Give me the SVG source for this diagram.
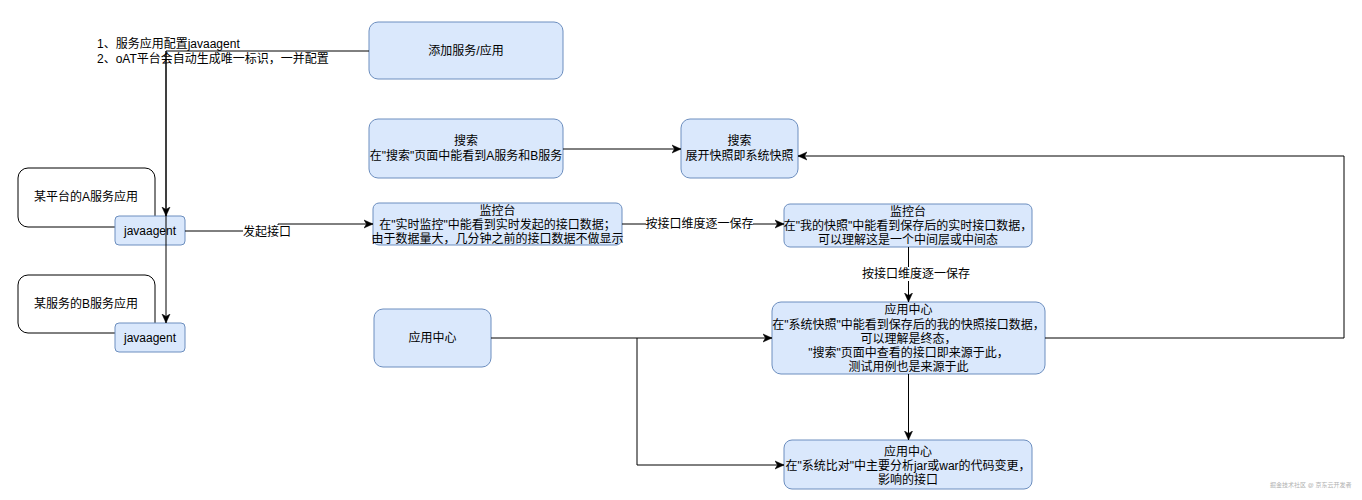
<svg xmlns="http://www.w3.org/2000/svg" width="1362" height="500" viewBox="0 0 1362 500">
<style>
text{font-family:"Liberation Sans","Noto Sans CJK SC",sans-serif;font-size:12px;fill:#000;dominant-baseline:central;text-anchor:middle}
.blue{fill:#dae8fc;stroke:#6c8ebf;stroke-width:1}
.white{fill:#fff;stroke:#000;stroke-width:1}
.edge{fill:none;stroke:#000;stroke-width:1}
.lbl{fill:#fff;stroke:none}
.wm{font-size:6px;fill:#b0b0b0;text-anchor:start}
</style>
<defs>
<marker id="arr" markerUnits="userSpaceOnUse" markerWidth="10" markerHeight="10" viewBox="0 0 10 10" refX="9" refY="5" orient="auto">
<path d="M0,1 L9,5 L0,9 L2.5,5 Z" fill="#000" stroke="#000" stroke-width="0.5"/>
</marker>
</defs>
<rect width="1362" height="500" fill="#fff"/>

<g id="note">
<text x="97" y="44" style="text-anchor:start">1、服务应用配置javaagent</text>
<text x="97" y="59" style="text-anchor:start">2、oAT平台会自动生成唯一标识，一并配置</text>
</g>

<g id="add-service">
<rect class="blue" x="369" y="22" width="194" height="57" rx="9"/>
<text x="466" y="50.5">添加服务/应用</text>
</g>

<g id="search-left">
<rect class="blue" x="369" y="119" width="194" height="59" rx="9"/>
<text x="466" y="141">搜索</text>
<text x="466" y="156">在"搜索"页面中能看到A服务和B服务</text>
</g>

<g id="search-right">
<rect class="blue" x="681" y="119" width="117" height="59" rx="9"/>
<text x="739.5" y="141">搜索</text>
<text x="739.5" y="156">展开快照即系统快照</text>
</g>

<g id="app-a">
<rect class="white" x="18" y="168" width="137" height="59" rx="10"/>
<text x="86" y="197">某平台的A服务应用</text>
</g>

<g id="agent-a">
<rect class="blue" x="115" y="216" width="70" height="29" rx="4"/>
<text x="150" y="231">javaagent</text>
</g>

<g id="app-b">
<rect class="white" x="18" y="275" width="137" height="58" rx="10"/>
<text x="86" y="304">某服务的B服务应用</text>
</g>

<g id="agent-b">
<rect class="blue" x="115" y="323" width="70" height="29" rx="4"/>
<text x="150" y="338">javaagent</text>
</g>

<g id="monitor-live">
<rect class="blue" x="373" y="203" width="249" height="42" rx="6"/>
<text x="497.5" y="210.5">监控台</text>
<text x="497.5" y="224.5">在"实时监控"中能看到实时发起的接口数据；</text>
<text x="497.5" y="238.5">由于数据量大，几分钟之前的接口数据不做显示</text>
</g>

<g id="monitor-snapshot">
<rect class="blue" x="784" y="204" width="248" height="43" rx="6"/>
<text x="908" y="211.5">监控台</text>
<text x="908" y="225.5">在"我的快照"中能看到保存后的实时接口数据，</text>
<text x="908" y="239.5">可以理解这是一个中间层或中间态</text>
</g>

<g id="app-center-left">
<rect class="blue" x="374" y="309" width="117" height="58" rx="9"/>
<text x="432.5" y="338">应用中心</text>
</g>

<g id="app-center-snapshot">
<rect class="blue" x="772" y="302" width="273" height="72" rx="9"/>
<text x="908.5" y="310">应用中心</text>
<text x="908.5" y="324.5">在"系统快照"中能看到保存后的我的快照接口数据，</text>
<text x="908.5" y="339">可以理解是终态，</text>
<text x="908.5" y="353">"搜索"页面中查看的接口即来源于此，</text>
<text x="908.5" y="367">测试用例也是来源于此</text>
</g>

<g id="app-center-compare">
<rect class="blue" x="784" y="440" width="248" height="49" rx="8"/>
<text x="908" y="451.5">应用中心</text>
<text x="908" y="465.5">在"系统比对"中主要分析jar或war的代码变更，</text>
<text x="908" y="479.5">影响的接口</text>
</g>

<g id="connectors">
<path class="edge" d="M369,51 H166 V216" marker-end="url(#arr)"/>
<path class="edge" d="M166,51 V323" marker-end="url(#arr)"/>
<path class="edge" d="M563,149 H681" marker-end="url(#arr)"/>
<path class="edge" d="M185,231 H278 V224 H373" marker-end="url(#arr)"/>
<rect class="lbl" x="243" y="225" width="48" height="13"/>
<text x="267" y="231.5">发起接口</text>
<path class="edge" d="M622,224 H784" marker-end="url(#arr)"/>
<rect class="lbl" x="646" y="217.5" width="107" height="13"/>
<text x="699.5" y="224">按接口维度逐一保存</text>
<path class="edge" d="M908.5,247 V302" marker-end="url(#arr)"/>
<rect class="lbl" x="862" y="267" width="108" height="14"/>
<text x="916" y="274">按接口维度逐一保存</text>
<path class="edge" d="M491,338 H772" marker-end="url(#arr)"/>
<path class="edge" d="M637,338 V465 H784" marker-end="url(#arr)"/>
<path class="edge" d="M908.5,374 V440" marker-end="url(#arr)"/>
<path class="edge" d="M1045,338 H1344 V156 H798" marker-end="url(#arr)"/>
</g>

<text class="wm" x="1270" y="485">掘金技术社区 @ 京东云开发者</text>
</svg>
